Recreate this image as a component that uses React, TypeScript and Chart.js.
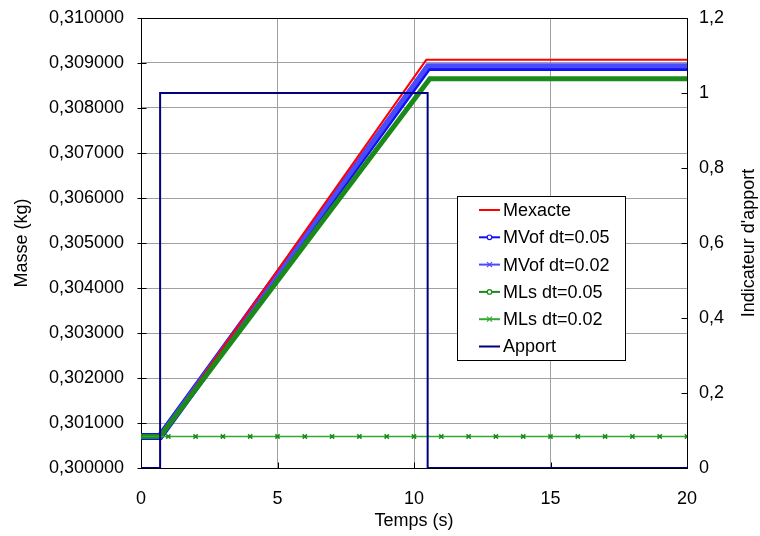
import React, { useEffect, useRef } from 'react';
import { Chart, registerables } from 'chart.js';

Chart.register(...registerables);

// ---- data ----
const seriesNames = ['Mexacte', 'MVof dt=0.05', 'MVof dt=0.02', 'MLs dt=0.05', 'MLs dt=0.02', 'Apport'];

const tExact = [0, 0.7, 10.45, 20];
const mExact = [0.3007, 0.3007, 0.30907, 0.30907];

const tMVof05 = [0, 0.7, 10.52, 20];
const mMVof05 = [0.3007, 0.3007, 0.3089, 0.3089];

const tMVof02 = [0, 0.7, 10.5, 20];
const mMVof02 = [0.3007, 0.3007, 0.30894, 0.30894];

const tMLs05 = [0, 0.7, 10.58, 20];
const mMLs05 = [0.3007, 0.3007, 0.30865, 0.30865];

const tMLs02 = [0, 1, 2, 3, 4, 5, 6, 7, 8, 9, 10, 11, 12, 13, 14, 15, 16, 17, 18, 19, 20];
const mMLs02 = [0.3007, 0.3007, 0.3007, 0.3007, 0.3007, 0.3007, 0.3007, 0.3007, 0.3007, 0.3007, 0.3007,
  0.3007, 0.3007, 0.3007, 0.3007, 0.3007, 0.3007, 0.3007, 0.3007, 0.3007, 0.3007];

const tApport = [0, 0.7, 0.7, 10.5, 10.5, 20];
const aApport = [0, 0, 1, 1, 0, 0];

const xTicks = [0, 5, 10, 15, 20];
const xTickLabels = ['0', '5', '10', '15', '20'];
const massTicks = [0.3, 0.301, 0.302, 0.303, 0.304, 0.305, 0.306, 0.307, 0.308, 0.309, 0.31];
const massTickLabels = ['0,300000', '0,301000', '0,302000', '0,303000', '0,304000', '0,305000',
  '0,306000', '0,307000', '0,308000', '0,309000', '0,310000'];
const apportTicks = [0, 0.2, 0.4, 0.6, 0.8, 1, 1.2];
const apportTickLabels = ['0', '0,2', '0,4', '0,6', '0,8', '1', '1,2'];

const xTitle = 'Temps (s)';
const yTitle = 'Masse (kg)';
const y1Title = "Indicateur d'apport";

// ---- style ----
const FONT = "'Liberation Sans', Arial, sans-serif";
const FS = 18;
const TFS = 18;
const GRID = '#a0a0a0';
const RED = '#ff0000';
const BLUE = '#1010f0';
const BLUE2 = '#4a4aff';
const GREEN = '#1a8a1a';
const GREEN2 = '#33a833';
const NAVY = '#000080';

const pts = (xs: number[], ys: number[]) => xs.map((x, i) => ({ x, y: ys[i] }));

const legendStyles = [
  { color: RED, marker: null },
  { color: BLUE, marker: 'circle' },
  { color: BLUE2, marker: 'cross' },
  { color: GREEN, marker: 'circle' },
  { color: GREEN2, marker: 'cross' },
  { color: NAVY, marker: null },
];

const decorPlugin = {
  id: 'decor',
  beforeDatasetsDraw(chart: any) {
    const { ctx, chartArea: a, scales } = chart;
    const L = Math.round(a.left) + 0.5;
    const R = Math.round(a.right) + 0.5;
    const T = Math.round(a.top) + 0.5;
    const B = Math.round(a.bottom) + 0.5;
    ctx.save();
    ctx.strokeStyle = '#000';
    ctx.lineWidth = 1;
    ctx.strokeRect(L, T, R - L, B - T);
    ctx.beginPath();
    for (const v of xTicks) {
      const px = Math.round(scales.x.getPixelForValue(v)) + 0.5;
      ctx.moveTo(px, B);
      ctx.lineTo(px, B - 6);
    }
    for (const v of massTicks) {
      const py = Math.round(scales.y.getPixelForValue(v)) + 0.5;
      ctx.moveTo(L - 4, py);
      ctx.lineTo(L + 5, py);
    }
    for (const v of apportTicks) {
      const py = Math.round(scales.y1.getPixelForValue(v)) + 0.5;
      ctx.moveTo(R - 6, py);
      ctx.lineTo(R, py);
    }
    ctx.stroke();
    ctx.restore();
  },
  afterDraw(chart: any) {
    const { ctx, chartArea: a } = chart;
    ctx.save();
    ctx.fillStyle = '#000';
    ctx.font = `${FS}px ${FONT}`;
    ctx.textAlign = 'center';
    ctx.textBaseline = 'middle';
    const midY = (a.top + a.bottom) / 2;
    ctx.save();
    ctx.translate(22, midY);
    ctx.rotate(-Math.PI / 2);
    ctx.fillText(yTitle, 0, 0);
    ctx.restore();
    ctx.save();
    ctx.translate(749, midY);
    ctx.rotate(-Math.PI / 2);
    ctx.fillText(y1Title, 0, 0);
    ctx.restore();
    ctx.fillText(xTitle, (a.left + a.right) / 2, 521);

    // legend
    const bx = 457.5, by = 196.5, bw = 168, bh = 164;
    ctx.fillStyle = '#fff';
    ctx.fillRect(bx, by, bw, bh);
    ctx.strokeStyle = '#000';
    ctx.lineWidth = 1;
    ctx.strokeRect(bx, by, bw, bh);
    ctx.textAlign = 'left';
    ctx.font = `${TFS}px ${FONT}`;
    seriesNames.forEach((name, i) => {
      const st = legendStyles[i];
      const y = 210 + i * 27.3;
      ctx.strokeStyle = st.color;
      ctx.lineWidth = 2;
      ctx.beginPath();
      ctx.moveTo(479, y);
      ctx.lineTo(500, y);
      ctx.stroke();
      if (st.marker === 'circle') {
        ctx.lineWidth = 1.2;
        ctx.beginPath();
        ctx.arc(489.5, y, 2.3, 0, Math.PI * 2);
        ctx.fillStyle = '#fff';
        ctx.fill();
        ctx.stroke();
      } else if (st.marker === 'cross') {
        ctx.lineWidth = 1.2;
        ctx.beginPath();
        ctx.moveTo(487, y - 2.5); ctx.lineTo(492, y + 2.5);
        ctx.moveTo(492, y - 2.5); ctx.lineTo(487, y + 2.5);
        ctx.stroke();
      }
      ctx.fillStyle = '#000';
      ctx.fillText(name, 503, y + 1);
    });
    ctx.restore();
  },
};

export default function App() {
  const ref = useRef<HTMLCanvasElement | null>(null);
  useEffect(() => {
    if (!ref.current) return;
    const tickFont = { family: FONT, size: TFS };
    const chart = new Chart(ref.current, {
      type: 'line',
      data: {
        datasets: [
          { label: seriesNames[5], data: pts(tApport, aApport), yAxisID: 'y1', borderColor: NAVY, borderWidth: 2, pointRadius: 0, order: 0 },
          { label: seriesNames[4], data: pts(tMLs02, mMLs02), yAxisID: 'y', borderColor: GREEN2, borderWidth: 1.5, pointRadius: 3, pointStyle: 'crossRot', pointBorderColor: GREEN, pointBorderWidth: 1.5, order: 1 },
          { label: seriesNames[3], data: pts(tMLs05, mMLs05), yAxisID: 'y', borderColor: GREEN, borderWidth: 5, pointRadius: 0, order: 2 },
          { label: seriesNames[0], data: pts(tExact, mExact), yAxisID: 'y', borderColor: RED, borderWidth: 2, pointRadius: 0, order: 3 },
          { label: seriesNames[2], data: pts(tMVof02, mMVof02), yAxisID: 'y', borderColor: BLUE2, borderWidth: 5, pointRadius: 0, order: 4 },
          { label: seriesNames[1], data: pts(tMVof05, mMVof05), yAxisID: 'y', borderColor: BLUE, borderWidth: 7, pointRadius: 0, order: 5 },
        ],
      },
      options: {
        animation: false,
        responsive: true,
        maintainAspectRatio: false,
        layout: { padding: { top: 18, left: 0, right: 0, bottom: 0 } },
        plugins: { legend: { display: false }, tooltip: { enabled: false } },
        elements: { line: { tension: 0 } },
        scales: {
          x: {
            type: 'linear',
            min: 0,
            max: 20,
            afterBuildTicks: (s: any) => { s.ticks = xTicks.map((v) => ({ value: v })); },
            afterFit: (s: any) => { s.height = 68; s.paddingLeft = 0; s.paddingRight = 0; },
            ticks: { font: tickFont, color: '#000', padding: 20, maxRotation: 0, callback: (_v: any, i: number) => xTickLabels[i] },
            grid: { color: GRID, drawTicks: false },
            border: { display: false },
          },
          y: {
            type: 'linear',
            position: 'left',
            min: 0.3,
            max: 0.31,
            afterBuildTicks: (s: any) => { s.ticks = massTicks.map((v) => ({ value: v })); },
            afterFit: (s: any) => { s.width = 141; s.paddingTop = 0; s.paddingBottom = 0; },
            ticks: { font: tickFont, color: '#000', padding: 17, callback: (_v: any, i: number) => massTickLabels[i] },
            grid: { color: GRID, drawTicks: false },
            border: { display: false },
          },
          y1: {
            type: 'linear',
            position: 'right',
            min: 0,
            max: 1.2,
            afterBuildTicks: (s: any) => { s.ticks = apportTicks.map((v) => ({ value: v })); },
            afterFit: (s: any) => { s.width = 73; s.paddingTop = 0; s.paddingBottom = 0; },
            ticks: { font: tickFont, color: '#000', padding: 12, callback: (_v: any, i: number) => apportTickLabels[i] },
            grid: { display: false, drawTicks: false },
            border: { display: false },
          },
        },
      },
      plugins: [decorPlugin],
    } as any);
    return () => chart.destroy();
  }, []);
  return (
    <div style={{ position: 'absolute', left: 0, top: 0, width: 760, height: 536, background: '#fff' }}>
      <canvas ref={ref} />
    </div>
  );
}
